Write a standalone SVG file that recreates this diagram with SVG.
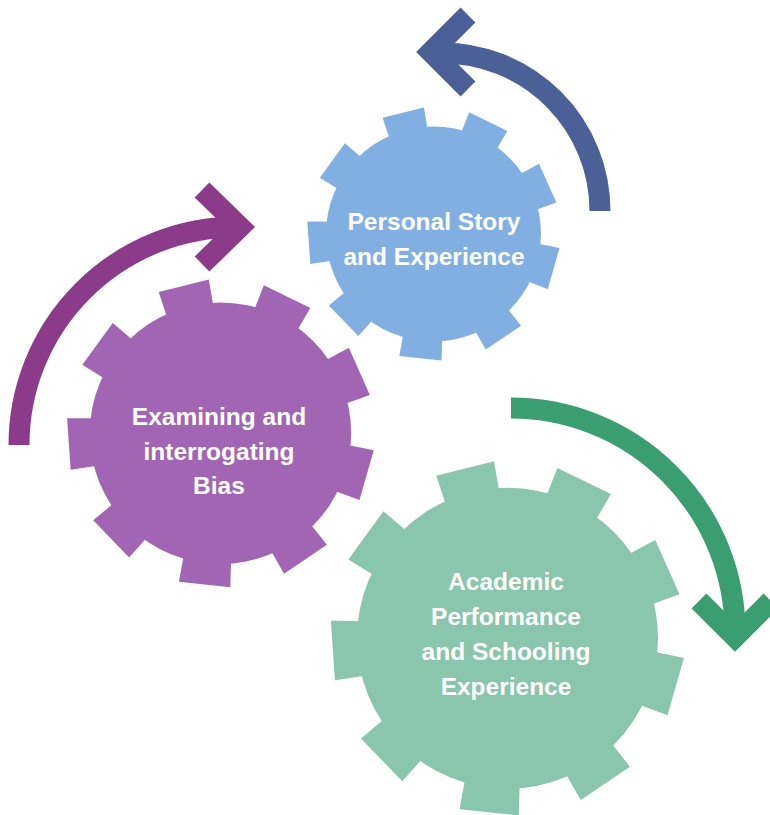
<svg xmlns="http://www.w3.org/2000/svg" width="770" height="815" viewBox="0 0 770 815">
  <style>
    .label { font-family: "Liberation Sans", Arial, sans-serif; font-weight: bold; font-size: 24.5px; fill: #ffffff; text-anchor: middle; }
    .arrow { fill: none; stroke-width: 21; stroke-linecap: butt; stroke-linejoin: miter; stroke-miterlimit: 10; }
  </style>
  <defs>
    <polygon id="tooth" points="-15.5,-80 -17,-100 17,-100 15.5,-80"/>
    <g id="gear">
      <circle cx="0" cy="0" r="86"/>
      <use href="#tooth" transform="rotate(106)"/>
      <use href="#tooth" transform="rotate(146)"/>
      <use href="#tooth" transform="rotate(186)"/>
      <use href="#tooth" transform="rotate(226)"/>
      <use href="#tooth" transform="rotate(266)"/>
      <use href="#tooth" transform="rotate(306)"/>
      <use href="#tooth" transform="rotate(346)"/>
      <use href="#tooth" transform="rotate(26)"/>
      <use href="#tooth" transform="rotate(66)"/>
    </g>
  </defs>

  <g id="connectors">
    <g id="arrow-personal" stroke="#4A6096">
      <path class="arrow" d="M 600 211 A 158 158 0 0 0 442 53 L 431 53"/>
      <polyline class="arrow" points="468,15 431,52 468,89"/>
    </g>
    <g id="arrow-bias" stroke="#8C3A8A">
      <path class="arrow" d="M 19 445 A 218 218 0 0 1 237 227 L 240 227"/>
      <polyline class="arrow" points="202,190 240,227 202,264"/>
    </g>
    <g id="arrow-academic" stroke="#3B9E70">
      <path class="arrow" d="M 511 408 A 224 224 0 0 1 735 632 L 735 637"/>
      <polyline class="arrow" points="699,601 735,637 771,601"/>
    </g>
  </g>

  <g id="node-personal">
    <use href="#gear" fill="#82AFE2" transform="translate(433.5,234) scale(1.25)"/>
    <text class="label" x="434" y="229.5">Personal Story</text>
    <text class="label" x="434" y="265">and Experience</text>
  </g>

  <g id="node-bias">
    <use href="#gear" fill="#A165B4" transform="translate(220.5,433.3) scale(1.52)"/>
    <text class="label" x="219" y="424.5">Examining and</text>
    <text class="label" x="219" y="459.5">interrogating</text>
    <text class="label" x="219" y="494">Bias</text>
  </g>

  <g id="node-academic">
    <use href="#gear" fill="#8AC5AD" transform="translate(507.5,638.3) scale(1.75)"/>
    <text class="label" x="506" y="589.5">Academic</text>
    <text class="label" x="506" y="624.5">Performance</text>
    <text class="label" x="506" y="659.5">and Schooling</text>
    <text class="label" x="506" y="694.5">Experience</text>
  </g>
</svg>
